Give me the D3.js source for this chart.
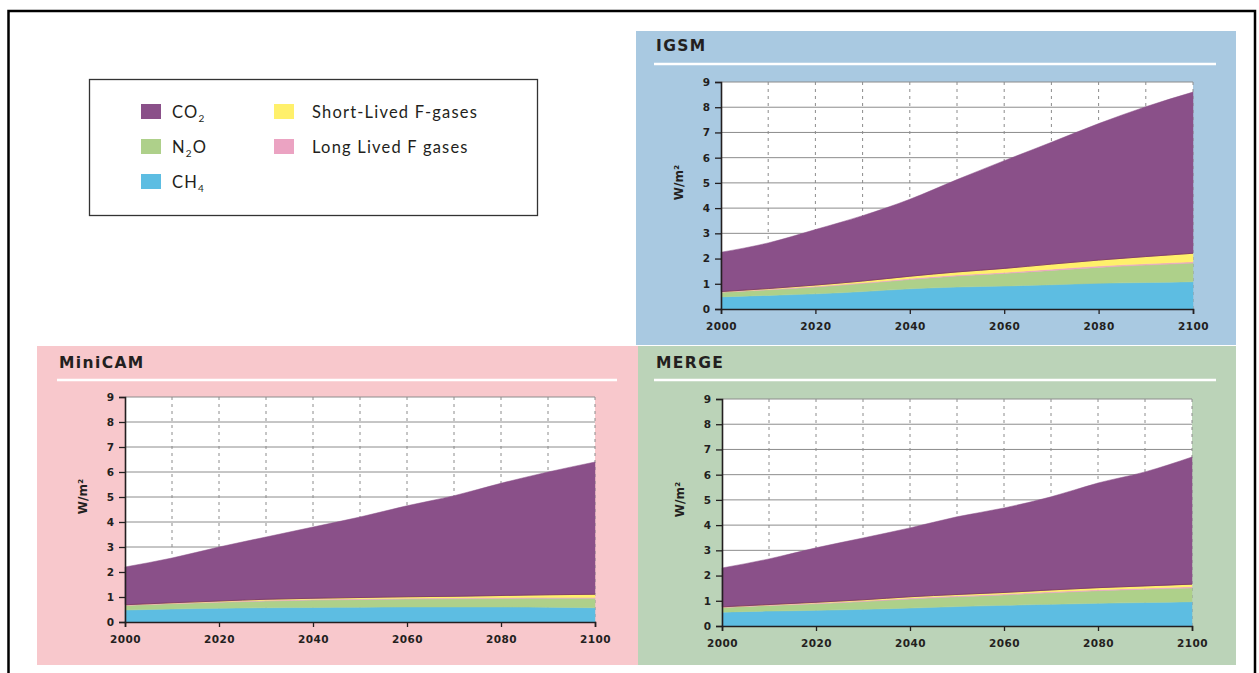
<!DOCTYPE html>
<html>
<head>
<meta charset="utf-8">
<script src="https://cdn.jsdelivr.net/npm/d3@7"></script>
<style>
  body { margin: 0; background: #fff; }
  svg { display: block; }
</style>
</head>
<body>
<svg id="chart" width="1259" height="673"></svg>
<script>
// ---- data: radiative forcing (W/m²) by gas, reference scenario ----
const years = [2000, 2010, 2020, 2030, 2040, 2050, 2060, 2070, 2080, 2090, 2100];

// IGSM
const igsmCH4 = [0.48, 0.54, 0.60, 0.69, 0.80, 0.87, 0.91, 0.96, 1.02, 1.05, 1.08];
const igsmN2O = [0.18, 0.22, 0.27, 0.32, 0.37, 0.44, 0.50, 0.57, 0.63, 0.69, 0.74];
const igsmLLF = [0.02, 0.02, 0.03, 0.03, 0.04, 0.04, 0.04, 0.05, 0.05, 0.05, 0.05];
const igsmSLF = [0.01, 0.03, 0.05, 0.07, 0.09, 0.12, 0.16, 0.20, 0.24, 0.29, 0.34];
const igsmCO2 = [1.56, 1.81, 2.20, 2.59, 3.05, 3.66, 4.27, 4.83, 5.41, 5.94, 6.39];

// MiniCAM
const minicamCH4 = [0.48, 0.52, 0.55, 0.57, 0.58, 0.59, 0.60, 0.60, 0.60, 0.59, 0.57];
const minicamN2O = [0.18, 0.21, 0.24, 0.27, 0.30, 0.31, 0.32, 0.33, 0.34, 0.36, 0.38];
const minicamLLF = [0.02, 0.02, 0.02, 0.03, 0.03, 0.03, 0.03, 0.03, 0.03, 0.03, 0.03];
const minicamSLF = [0.01, 0.02, 0.03, 0.04, 0.04, 0.05, 0.06, 0.07, 0.09, 0.11, 0.13];
const minicamCO2 = [1.51, 1.79, 2.16, 2.49, 2.85, 3.22, 3.64, 4.02, 4.49, 4.91, 5.29];

// MERGE
const mergeCH4 = [0.55, 0.59, 0.62, 0.66, 0.71, 0.77, 0.82, 0.86, 0.90, 0.93, 0.96];
const mergeN2O = [0.18, 0.22, 0.26, 0.31, 0.36, 0.39, 0.41, 0.46, 0.50, 0.53, 0.55];
const mergeLLF = [0.02, 0.02, 0.03, 0.03, 0.04, 0.04, 0.04, 0.04, 0.04, 0.04, 0.05];
const mergeSLF = [0.01, 0.02, 0.03, 0.04, 0.05, 0.05, 0.06, 0.07, 0.08, 0.09, 0.10];
const mergeCO2 = [1.54, 1.81, 2.16, 2.45, 2.73, 3.08, 3.35, 3.69, 4.15, 4.52, 5.04];

const modelNames = ["IGSM", "MiniCAM", "MERGE"];
const yTicks = [0, 1, 2, 3, 4, 5, 6, 7, 8, 9];
const xTicks = [2000, 2020, 2040, 2060, 2080, 2100];
const yLabel = "W/m²";

// stack order, bottom to top
const gasKeys = ["CH4", "N2O", "LLF", "SLF", "CO2"];
const gasColors = {
  CO2: "#8a5089",
  N2O: "#aed08a",
  CH4: "#5dbde2",
  SLF: "#fff06b",
  LLF: "#eba3c2"
};

// ---- layout ----
const panels = [
  { name: modelNames[0], bg: "#a9c9e1", box: [636, 31, 600, 314], titleY: 51, ruleY: 64,
    ruleX: [654, 1216], plot: [721, 1193, 82, 309],
    series: { CH4: igsmCH4, N2O: igsmN2O, LLF: igsmLLF, SLF: igsmSLF, CO2: igsmCO2 } },
  { name: modelNames[1], bg: "#f8c8cc", box: [37, 346, 601, 319], titleY: 368, ruleY: 380,
    ruleX: [57, 617], plot: [125, 595, 397, 622],
    series: { CH4: minicamCH4, N2O: minicamN2O, LLF: minicamLLF, SLF: minicamSLF, CO2: minicamCO2 } },
  { name: modelNames[2], bg: "#bbd3b8", box: [638, 346, 598, 319], titleY: 368, ruleY: 380,
    ruleX: [654, 1216], plot: [722, 1192, 399, 626],
    series: { CH4: mergeCH4, N2O: mergeN2O, LLF: mergeLLF, SLF: mergeSLF, CO2: mergeCO2 } }
];

const boldFont = "'DejaVu Sans', Verdana, sans-serif";
const bodyFont = "Lato, 'Open Sans', sans-serif";
const svg = d3.select("#chart");

// outer frame (open at the bottom)
svg.append("path")
  .attr("d", "M8.5,673 V11 H1255 V673")
  .attr("fill", "none").attr("stroke", "#000").attr("stroke-width", 2.5);

panels.forEach(p => {
  const g = svg.append("g");
  const [bx, by, bw, bh] = p.box;
  g.append("rect").attr("x", bx).attr("y", by).attr("width", bw).attr("height", bh).attr("fill", p.bg);

  g.append("text")
    .attr("x", p.ruleX[0] + 2).attr("y", p.titleY)
    .style("font-family", boldFont)
    .style("font-size", "15.5px").style("font-weight", 700).style("letter-spacing", "1.4px")
    .attr("fill", "#231f20").text(p.name);

  g.append("line")
    .attr("x1", p.ruleX[0]).attr("x2", p.ruleX[1])
    .attr("y1", p.ruleY).attr("y2", p.ruleY)
    .attr("stroke", "#fff").attr("stroke-width", 2.5);

  const [x0, x1, yTop, yBot] = p.plot;
  const x = d3.scaleLinear().domain([2000, 2100]).range([x0, x1]);
  const y = d3.scaleLinear().domain([0, 9]).range([yBot, yTop]);

  // plot background
  g.append("rect").attr("x", x0).attr("y", yTop).attr("width", x1 - x0).attr("height", yBot - yTop).attr("fill", "#fff");

  // horizontal grid
  g.append("g").selectAll("line").data(yTicks.filter(v => v > 0)).join("line")
    .attr("x1", x0).attr("x2", x1)
    .attr("y1", d => y(d)).attr("y2", d => y(d))
    .attr("stroke", "#8c8c8c").attr("stroke-width", 1);

  // vertical dashed grid every decade
  g.append("g").selectAll("line").data(years.slice(1)).join("line")
    .attr("x1", d => x(d)).attr("x2", d => x(d))
    .attr("y1", yTop).attr("y2", yBot)
    .attr("stroke", "#8c8c8c").attr("stroke-width", 1).attr("stroke-dasharray", "3,4");

  // stacked areas
  const rows = years.map((yr, i) => {
    const r = { year: yr };
    gasKeys.forEach(k => { r[k] = p.series[k][i]; });
    return r;
  });
  const stacked = d3.stack().keys(gasKeys)(rows);
  const area = d3.area()
    .curve(d3.curveMonotoneX)
    .x(d => x(d.data.year))
    .y0(d => y(d[0]))
    .y1(d => y(d[1]));
  g.append("g").selectAll("path").data(stacked).join("path")
    .attr("d", area)
    .attr("fill", d => gasColors[d.key])
    .attr("stroke", d => gasColors[d.key]).attr("stroke-width", 0.5);

  // dark seam under the CO2 band
  const seam = d3.line().curve(d3.curveMonotoneX).x(d => x(d.data.year)).y(d => y(d[0]));
  g.append("path").attr("d", seam(stacked[4]))
    .attr("fill", "none").attr("stroke", "#7a3562").attr("stroke-width", 0.8);

  // axes
  const yAxis = d3.axisLeft(y).tickValues(yTicks).tickSize(6).tickPadding(5).tickFormat(d3.format("d"));
  const ya = g.append("g").attr("transform", `translate(${x0},0)`).call(yAxis);
  const xAxis = d3.axisBottom(x).tickValues(xTicks).tickSize(5).tickPadding(9).tickFormat(d3.format("d"));
  const xa = g.append("g").attr("transform", `translate(0,${yBot})`).call(xAxis);
  [ya, xa].forEach(a => {
    a.select(".domain").attr("stroke", "#231f20").attr("stroke-width", 1.6);
    a.selectAll(".tick line").attr("stroke", "#231f20").attr("stroke-width", 1.3);
    a.selectAll(".tick text")
      .style("font-family", boldFont).style("font-size", "10.5px").style("font-weight", 700)
      .attr("fill", "#231f20");
  });
  xa.selectAll(".tick text").style("letter-spacing", "0.5px");

  // y axis title
  g.append("text")
    .attr("transform", `translate(${x0 - 38},${(yTop + yBot) / 2 - 13}) rotate(-90)`)
    .attr("text-anchor", "middle")
    .style("font-family", boldFont).style("font-size", "12px").style("font-weight", 700)
    .attr("fill", "#231f20")
    .text(yLabel);
});

// ---- legend ----
const legendItems = [
  { key: "CO2", base: "CO", sub: "2", tail: "", col: 0, row: 0 },
  { key: "N2O", base: "N", sub: "2", tail: "O", col: 0, row: 1 },
  { key: "CH4", base: "CH", sub: "4", tail: "", col: 0, row: 2 },
  { key: "SLF", base: "Short-Lived F-gases", sub: "", tail: "", col: 1, row: 0 },
  { key: "LLF", base: "Long Lived F gases", sub: "", tail: "", col: 1, row: 1 }
];
const lg = svg.append("g");
lg.append("rect").attr("x", 89.5).attr("y", 79.5).attr("width", 448).attr("height", 136)
  .attr("fill", "#fff").attr("stroke", "#333").attr("stroke-width", 1.3);
const colX = [141, 274];
const textOffset = [31, 38];
const rowY = [112, 147, 182];
legendItems.forEach(it => {
  const sx = colX[it.col], cy = rowY[it.row];
  lg.append("rect").attr("x", sx).attr("y", cy - 8).attr("width", 20).attr("height", 15)
    .attr("fill", gasColors[it.key]);
  const t = lg.append("text").attr("x", sx + textOffset[it.col]).attr("y", cy + 6)
    .style("font-family", bodyFont).style("font-size", "16.5px").style("letter-spacing", "1.2px")
    .attr("fill", "#231f20");
  t.append("tspan").text(it.base);
  if (it.sub) {
    t.append("tspan").style("font-size", "10px").attr("dy", 4).text(it.sub);
    if (it.tail) t.append("tspan").attr("dy", -4).text(it.tail);
  }
});
</script>
</body>
</html>
